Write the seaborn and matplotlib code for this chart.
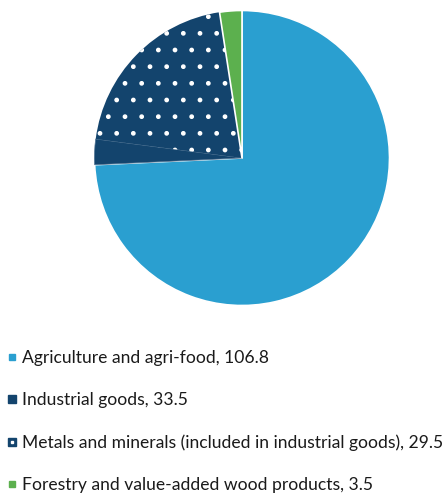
import matplotlib
matplotlib.use("Agg")
import matplotlib.pyplot as plt
from matplotlib.lines import Line2D
from matplotlib.legend_handler import HandlerTuple
import seaborn as sns

sns.set_theme(style="white")
plt.rcParams["font.family"] = ["Lato", "DejaVu Sans"]
plt.rcParams["hatch.color"] = "white"

# data (billions)
categories = ["Agriculture and agri-food", "Industrial goods",
              "Metals and minerals (included in industrial goods)",
              "Forestry and value-added wood products"]
values = [106.8, 33.5, 29.5, 3.5]
colors = ["#2a9fd0", "#13446d", "#13446d", "#5cb04e"]

# pie slices: industrial goods split into non-metal part + metals part
slice_values = [values[0], values[1] - values[2], values[2], values[3]]
slice_colors = [colors[0], colors[1], colors[2], colors[3]]
slice_hatch = [None, None, ".", None]

fig = plt.figure(figsize=(4.45, 4.93), dpi=100)
ax = fig.add_axes([93 / 445, 1 - 307 / 493, 298 / 445, 298 / 493])
wedges, _ = ax.pie(slice_values, colors=slice_colors, startangle=90,
                   counterclock=False, radius=1,
                   wedgeprops=dict(edgecolor="white", linewidth=1.2))
for w, h in zip(wedges, slice_hatch):
    if h:
        w.set_hatch(h)
        w.set_linewidth(0)
# faint separator between industrial non-metal part and metals
wedges[1].set_edgecolor("#4a6f90")
wedges[1].set_linewidth(0.5)
ax.set_xlim(-1.01, 1.01)
ax.set_ylim(-1.01, 1.01)
ax.set_aspect("equal")
ax.axis("off")

labels = [f"{c}, {v}" for c, v in zip(categories, values)]
h_agri = Line2D([], [], marker="s", ls="", color=colors[0], markersize=4.5)
h_ind = Line2D([], [], marker="s", ls="", color=colors[1], markersize=6)
h_met = (Line2D([], [], marker="s", ls="", color=colors[2], markersize=6),
         Line2D([], [], marker="s", ls="", color="white", markersize=1.8))
h_for = Line2D([], [], marker="s", ls="", color=colors[3], markersize=4.5)
handles = [h_agri, h_ind, h_met, h_for]

leg = fig.legend(handles, labels, loc="upper left",
                 bbox_to_anchor=(0.0, 1 - 343 / 493),
                 frameon=False, fontsize=12.6, handlelength=0.6,
                 handletextpad=0.25, labelspacing=1.5, borderaxespad=0,
                 handler_map={tuple: HandlerTuple(ndivide=1)})
for t in leg.get_texts():
    t.set_color("#1a1a1a")

fig.savefig("out.png", dpi=100)
